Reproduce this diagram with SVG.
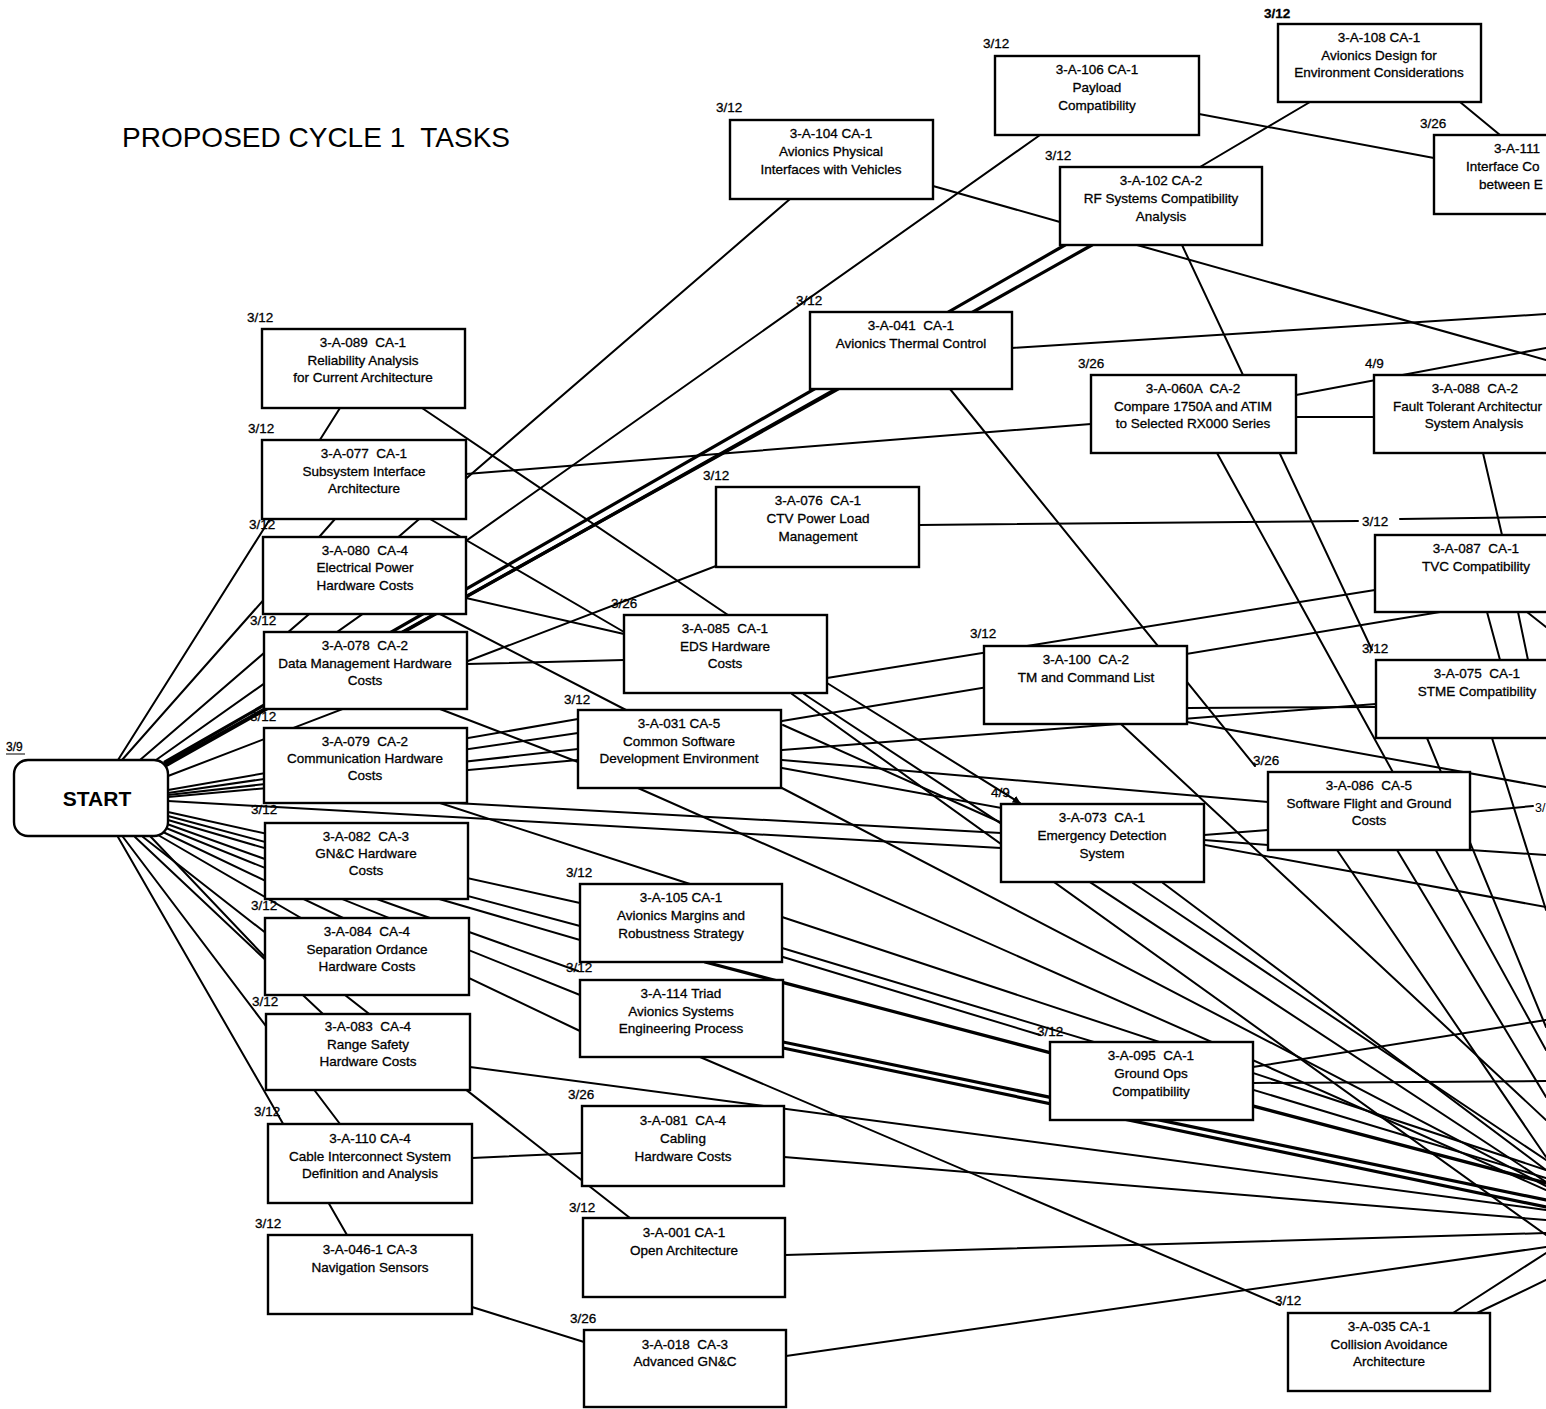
<svg xmlns="http://www.w3.org/2000/svg" width="1546" height="1409" viewBox="0 0 1546 1409">
<style>
text{font-family:"Liberation Sans",Arial,Helvetica,sans-serif;fill:#000;white-space:pre}
.n rect{fill:#fff;stroke:#000;stroke-width:2.4}
.n text{font-size:13.5px;text-anchor:middle;stroke:#000;stroke-width:0.3}
.n text.l{text-anchor:start}
.d{font-size:12.5px}
#connectors line{stroke:#000;stroke-width:2;stroke-linecap:round;fill:none}
#connectors line.t{stroke-width:3.2}
</style>
<defs>
<marker id="arr" viewBox="0 0 10 10" refX="9" refY="5" markerWidth="4" markerHeight="4" orient="auto"><path d="M0,0 L10,5 L0,10 z" fill="#000"/></marker>
</defs>
<rect width="1546" height="1409" fill="#fff"/>
<text x="122" y="147" font-size="28">PROPOSED CYCLE 1  TASKS</text>
<g id="connectors">
<line x1="118" y1="760" x2="340" y2="408"/>
<line x1="122" y1="760" x2="335" y2="519"/>
<line x1="140" y1="760" x2="790" y2="199"/>
<line x1="156" y1="760" x2="1040" y2="135"/>
<line class="t" x1="165" y1="762" x2="1065" y2="245"/>
<line class="t" x1="167" y1="765" x2="1092" y2="245"/>
<line class="t" x1="166" y1="764" x2="838" y2="389"/>
<line x1="168" y1="776" x2="716" y2="566"/>
<line x1="168" y1="790" x2="578" y2="719"/>
<line x1="168" y1="793" x2="578" y2="733"/>
<line x1="168" y1="795" x2="578" y2="749"/>
<line x1="168" y1="797" x2="578" y2="760"/>
<line x1="168" y1="801" x2="1001" y2="848"/>
<line x1="168" y1="812" x2="580" y2="903"/>
<line x1="168" y1="816" x2="580" y2="926"/>
<line x1="168" y1="820" x2="580" y2="940"/>
<line x1="167" y1="824" x2="578" y2="971"/>
<line x1="166" y1="828" x2="580" y2="995"/>
<line x1="163" y1="832" x2="580" y2="1031"/>
<line x1="158" y1="835" x2="320" y2="929"/>
<line x1="150" y1="836" x2="265" y2="957"/>
<line x1="143" y1="837" x2="630" y2="1218"/>
<line x1="135" y1="837" x2="323" y2="1014"/>
<line x1="123" y1="837" x2="340" y2="1124"/>
<line x1="118" y1="837" x2="347" y2="1235"/>
<line x1="422" y1="408" x2="728" y2="615"/>
<line x1="430" y1="519" x2="624" y2="632"/>
<line x1="466" y1="598" x2="624" y2="634"/>
<line x1="467" y1="664" x2="624" y2="660"/>
<line x1="466" y1="474" x2="1091" y2="424"/>
<line x1="440" y1="614" x2="626" y2="710"/>
<line x1="440" y1="709" x2="578" y2="762"/>
<line x1="440" y1="803" x2="690" y2="884"/>
<line x1="455" y1="803" x2="1001" y2="833"/>
<line x1="470" y1="1067" x2="1546" y2="1210"/>
<line x1="472" y1="1158" x2="582" y2="1153"/>
<line x1="784" y1="1157" x2="1546" y2="1220"/>
<line x1="472" y1="1307" x2="584" y2="1342"/>
<line x1="786" y1="1356" x2="1546" y2="1247"/>
<line x1="785" y1="1255" x2="1546" y2="1233"/>
<line x1="933" y1="186" x2="1060" y2="222"/>
<line x1="1199" y1="114" x2="1434" y2="158"/>
<line x1="1310" y1="102" x2="1200" y2="167"/>
<line x1="1460" y1="102" x2="1500" y2="135"/>
<line x1="1012" y1="348" x2="1546" y2="314"/>
<line x1="1137" y1="245" x2="1546" y2="360"/>
<line x1="1182" y1="245" x2="1372" y2="650"/>
<line x1="950" y1="389" x2="1255" y2="766"/>
<line x1="1296" y1="395" x2="1546" y2="348"/>
<line x1="1296" y1="417" x2="1374" y2="417"/>
<line x1="1483" y1="453" x2="1502" y2="535"/>
<line x1="919" y1="525" x2="1358" y2="521"/>
<line x1="1400" y1="519" x2="1546" y2="517"/>
<line x1="827" y1="678" x2="1375" y2="590"/>
<line x1="782" y1="721" x2="1440" y2="612"/>
<line x1="782" y1="750" x2="1376" y2="704"/>
<line x1="1187" y1="708" x2="1376" y2="707"/>
<line x1="1487" y1="612" x2="1500" y2="660"/>
<line x1="1518" y1="612" x2="1528" y2="660"/>
<line x1="1527" y1="612" x2="1546" y2="627"/>
<line x1="1187" y1="722" x2="1546" y2="787"/>
<line x1="782" y1="760" x2="1268" y2="802"/>
<line x1="783" y1="725" x2="1002" y2="823"/>
<line x1="782" y1="768" x2="1546" y2="907"/>
<line x1="1204" y1="835" x2="1268" y2="830"/>
<line x1="1204" y1="840" x2="1268" y2="845"/>
<line x1="1470" y1="812" x2="1533" y2="806"/>
<line x1="1470" y1="850" x2="1546" y2="855"/>
<line x1="1253" y1="1067" x2="1546" y2="1020"/>
<line x1="1253" y1="1083" x2="1546" y2="1081"/>
<line x1="1453" y1="1313" x2="1546" y2="1253"/>
<line x1="1477" y1="1313" x2="1546" y2="1280"/>
<line class="t" x1="783" y1="1042" x2="1546" y2="1200"/>
<line class="t" x1="783" y1="1048" x2="1546" y2="1207"/>
<line class="t" x1="705" y1="962" x2="1546" y2="1183"/>
<line x1="782" y1="917" x2="1546" y2="1170"/>
<line x1="782" y1="948" x2="1546" y2="1178"/>
<line x1="783" y1="957" x2="1040" y2="1035"/>
<line x1="638" y1="788" x2="1546" y2="1190"/>
<line x1="780" y1="787" x2="1546" y2="1186"/>
<line x1="792" y1="694" x2="1546" y2="1235"/>
<line x1="804" y1="694" x2="1546" y2="1182"/>
<line x1="1133" y1="883" x2="1546" y2="1160"/>
<line x1="1163" y1="883" x2="1546" y2="1170"/>
<line x1="1121" y1="724" x2="1546" y2="1120"/>
<line x1="1217" y1="453" x2="1546" y2="1050"/>
<line x1="1337" y1="850" x2="1546" y2="1157"/>
<line x1="1397" y1="850" x2="1546" y2="1097"/>
<line x1="1427" y1="738" x2="1546" y2="1027"/>
<line x1="1492" y1="738" x2="1546" y2="910"/>
<line x1="700" y1="1057" x2="1280" y2="1305"/>
<line x1="827" y1="683" x2="1020" y2="803" marker-end="url(#arr)"/>
</g>
<g id="n-start" class="n">
<rect x="14" y="760" width="154" height="76" rx="14"/>
<text x="97" y="806" style="font-size:21px;font-weight:bold;stroke-width:0">START</text>
<text class="d" x="6" y="751" style="text-anchor:start;font-size:12px">3/9</text>
<line x1="6" y1="754" x2="25" y2="754" stroke="#000" stroke-width="1"/>
</g>
<g id="n089" class="n"><rect x="262" y="329" width="203" height="79"/><text class="d l" x="247" y="322">3/12</text><text x="363" y="347">3-A-089  CA-1</text><text x="363" y="365">Reliability Analysis</text><text x="363" y="382">for Current Architecture</text></g>
<g id="n077" class="n"><rect x="262" y="440" width="204" height="79"/><text class="d l" x="248" y="433">3/12</text><text x="364" y="458">3-A-077  CA-1</text><text x="364" y="476">Subsystem Interface</text><text x="364" y="493">Architecture</text></g>
<g id="n080" class="n"><rect x="263" y="537" width="203" height="77"/><text class="d l" x="249" y="529">3/12</text><text x="365" y="555">3-A-080  CA-4</text><text x="365" y="572">Electrical Power</text><text x="365" y="590">Hardware Costs</text></g>
<g id="n078" class="n"><rect x="264" y="632" width="203" height="77"/><text class="d l" x="250" y="625">3/12</text><text x="365" y="650">3-A-078  CA-2</text><text x="365" y="668">Data Management Hardware</text><text x="365" y="685">Costs</text></g>
<g id="n079" class="n"><rect x="264" y="728" width="203" height="75"/><text class="d l" x="250" y="721">3/12</text><text x="365" y="746">3-A-079  CA-2</text><text x="365" y="763">Communication Hardware</text><text x="365" y="780">Costs</text></g>
<g id="n082" class="n"><rect x="265" y="823" width="203" height="76"/><text class="d l" x="251" y="814">3/12</text><text x="366" y="841">3-A-082  CA-3</text><text x="366" y="858">GN&amp;C Hardware</text><text x="366" y="875">Costs</text></g>
<g id="n084" class="n"><rect x="265" y="918" width="204" height="77"/><text class="d l" x="251" y="910">3/12</text><text x="367" y="936">3-A-084  CA-4</text><text x="367" y="954">Separation Ordance</text><text x="367" y="971">Hardware Costs</text></g>
<g id="n083" class="n"><rect x="266" y="1014" width="204" height="76"/><text class="d l" x="252" y="1006">3/12</text><text x="368" y="1031">3-A-083  CA-4</text><text x="368" y="1049">Range Safety</text><text x="368" y="1066">Hardware Costs</text></g>
<g id="n110" class="n"><rect x="268" y="1124" width="204" height="79"/><text class="d l" x="254" y="1116">3/12</text><text x="370" y="1143">3-A-110 CA-4</text><text x="370" y="1161">Cable Interconnect System</text><text x="370" y="1178">Definition and Analysis</text></g>
<g id="n046" class="n"><rect x="268" y="1235" width="204" height="79"/><text class="d l" x="255" y="1228">3/12</text><text x="370" y="1254">3-A-046-1 CA-3</text><text x="370" y="1272">Navigation Sensors</text></g>
<g id="n031" class="n"><rect x="578" y="710" width="203" height="78"/><text class="d l" x="564" y="704">3/12</text><text x="679" y="728">3-A-031 CA-5</text><text x="679" y="746">Common Software</text><text x="679" y="763">Development Environment</text></g>
<g id="n105" class="n"><rect x="580" y="884" width="202" height="78"/><text class="d l" x="566" y="877">3/12</text><text x="681" y="902">3-A-105 CA-1</text><text x="681" y="920">Avionics Margins and</text><text x="681" y="938">Robustness Strategy</text></g>
<g id="n114" class="n"><rect x="580" y="980" width="203" height="77"/><text class="d l" x="566" y="972">3/12</text><text x="681" y="998">3-A-114 Triad</text><text x="681" y="1016">Avionics Systems</text><text x="681" y="1033">Engineering Process</text></g>
<g id="n081" class="n"><rect x="582" y="1106" width="202" height="80"/><text class="d l" x="568" y="1099">3/26</text><text x="683" y="1125">3-A-081  CA-4</text><text x="683" y="1143">Cabling</text><text x="683" y="1161">Hardware Costs</text></g>
<g id="n001" class="n"><rect x="583" y="1218" width="202" height="79"/><text class="d l" x="569" y="1212">3/12</text><text x="684" y="1237">3-A-001 CA-1</text><text x="684" y="1255">Open Architecture</text></g>
<g id="n018" class="n"><rect x="584" y="1330" width="202" height="77"/><text class="d l" x="570" y="1323">3/26</text><text x="685" y="1349">3-A-018  CA-3</text><text x="685" y="1366">Advanced GN&amp;C</text></g>
<g id="n085" class="n"><rect x="624" y="615" width="203" height="78"/><text class="d l" x="611" y="608">3/26</text><text x="725" y="633">3-A-085  CA-1</text><text x="725" y="651">EDS Hardware</text><text x="725" y="668">Costs</text></g>
<g id="n076" class="n"><rect x="716" y="487" width="203" height="80"/><text class="d l" x="703" y="480">3/12</text><text x="818" y="505">3-A-076  CA-1</text><text x="818" y="523">CTV Power Load</text><text x="818" y="541">Management</text></g>
<g id="n104" class="n"><rect x="730" y="120" width="203" height="79"/><text class="d l" x="716" y="112">3/12</text><text x="831" y="138">3-A-104 CA-1</text><text x="831" y="156">Avionics Physical</text><text x="831" y="174">Interfaces with Vehicles</text></g>
<g id="n041" class="n"><rect x="810" y="312" width="202" height="77"/><text class="d l" x="796" y="305">3/12</text><text x="911" y="330">3-A-041  CA-1</text><text x="911" y="348">Avionics Thermal Control</text></g>
<g id="n106" class="n"><rect x="995" y="56" width="204" height="79"/><text class="d l" x="983" y="48">3/12</text><text x="1097" y="74">3-A-106 CA-1</text><text x="1097" y="92">Payload</text><text x="1097" y="110">Compatibility</text></g>
<g id="n108" class="n"><rect x="1278" y="24" width="203" height="78"/><text class="d l" x="1264" y="18" style="font-weight:bold">3/12</text><text x="1379" y="42">3-A-108 CA-1</text><text x="1379" y="60">Avionics Design for</text><text x="1379" y="77">Environment Considerations</text></g>
<g id="n111" class="n"><rect x="1434" y="135" width="160" height="79"/><text class="d l" x="1420" y="128">3/26</text><text class="l" x="1494" y="153">3-A-111</text><text class="l" x="1466" y="171">Interface Co</text><text class="l" x="1479" y="189">between E</text></g>
<g id="n102" class="n"><rect x="1060" y="167" width="202" height="78"/><text class="d l" x="1045" y="160">3/12</text><text x="1161" y="185">3-A-102 CA-2</text><text x="1161" y="203">RF Systems Compatibility</text><text x="1161" y="221">Analysis</text></g>
<g id="n060a" class="n"><rect x="1091" y="375" width="205" height="78"/><text class="d l" x="1078" y="368">3/26</text><text x="1193" y="393">3-A-060A  CA-2</text><text x="1193" y="411">Compare 1750A and ATIM</text><text x="1193" y="428">to Selected RX000 Series</text></g>
<g id="n088" class="n"><rect x="1374" y="375" width="200" height="78"/><text class="d l" x="1365" y="368">4/9</text><text x="1475" y="393">3-A-088  CA-2</text><text class="l" x="1393" y="411">Fault Tolerant Architectur</text><text x="1474" y="428">System Analysis</text></g>
<g id="n087" class="n"><rect x="1375" y="535" width="200" height="77"/><text class="d l" x="1362" y="526">3/12</text><text x="1476" y="553">3-A-087  CA-1</text><text x="1476" y="571">TVC Compatibility</text></g>
<g id="n075" class="n"><rect x="1376" y="660" width="200" height="78"/><text class="d l" x="1362" y="653">3/12</text><text x="1477" y="678">3-A-075  CA-1</text><text x="1477" y="696">STME Compatibility</text></g>
<g id="n100" class="n"><rect x="984" y="646" width="203" height="78"/><text class="d l" x="970" y="638">3/12</text><text x="1086" y="664">3-A-100  CA-2</text><text x="1086" y="682">TM and Command List</text></g>
<g id="n086" class="n"><rect x="1268" y="772" width="202" height="78"/><text class="d l" x="1253" y="765">3/26</text><text x="1369" y="790">3-A-086  CA-5</text><text x="1369" y="808">Software Flight and Ground</text><text x="1369" y="825">Costs</text></g>
<g id="n073" class="n"><rect x="1001" y="804" width="203" height="78"/><text class="d l" x="991" y="797">4/9</text><text x="1102" y="822">3-A-073  CA-1</text><text x="1102" y="840">Emergency Detection</text><text x="1102" y="858">System</text></g>
<g id="n095" class="n"><rect x="1050" y="1042" width="203" height="78"/><text class="d l" x="1037" y="1036">3/12</text><text x="1151" y="1060">3-A-095  CA-1</text><text x="1151" y="1078">Ground Ops</text><text x="1151" y="1096">Compatibility</text></g>
<g id="n035" class="n"><rect x="1288" y="1313" width="202" height="78"/><text class="d l" x="1275" y="1305">3/12</text><text x="1389" y="1331">3-A-035 CA-1</text><text x="1389" y="1349">Collision Avoidance</text><text x="1389" y="1366">Architecture</text></g>
<g id="n-edge"><text class="d" x="1535" y="812">3/</text></g>
</svg>
